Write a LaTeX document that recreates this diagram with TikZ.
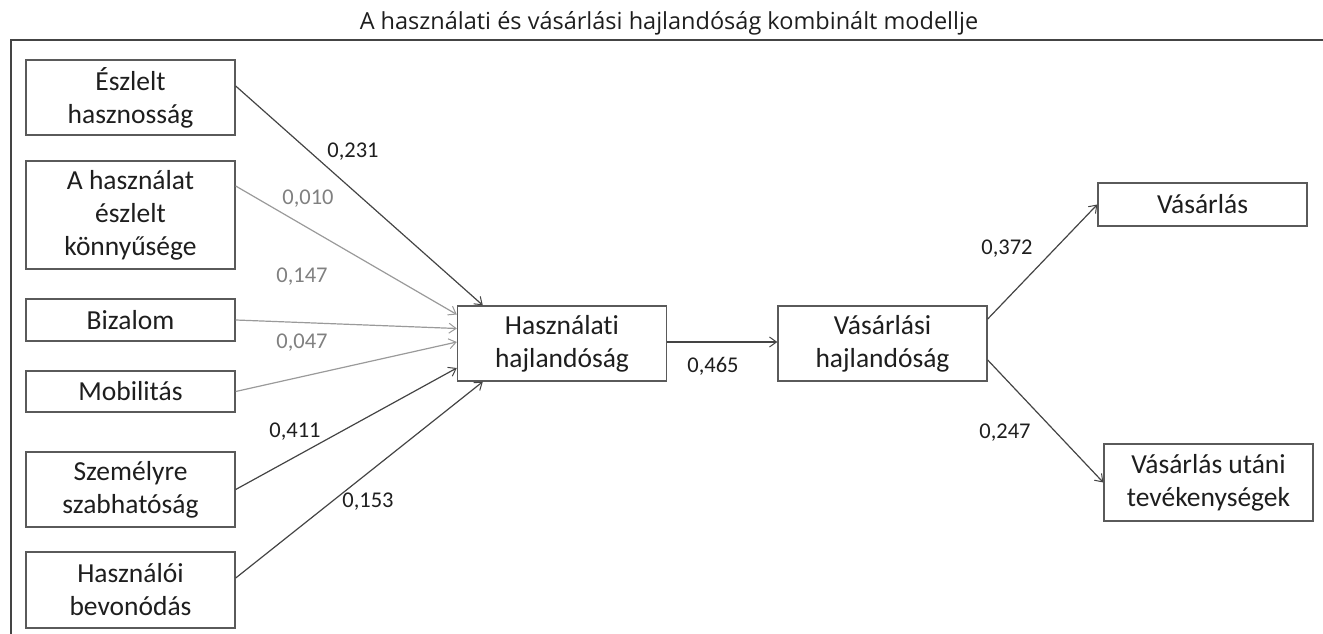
\documentclass[tikz,border=0pt]{standalone}
\usepackage{fontspec}
\setmainfont{Carlito}[Ligatures=NoCommon]
\newfontfamily\titlefont{Open Sans}
\usetikzlibrary{arrows.meta}
\definecolor{boxline}{HTML}{5A5A5A}
\definecolor{darkarr}{HTML}{444444}
\definecolor{lightarr}{HTML}{9A9A9A}
\definecolor{lightlab}{HTML}{808080}
\definecolor{txt}{HTML}{1E1E1E}
\tikzset{
  box/.style={draw=boxline, line width=1.4pt, minimum width=209pt, inner sep=0pt,
    align=center, text=txt, font=\fontsize{27.5}{33}\selectfont},
  darkline/.style={draw=darkarr, line width=1.2pt, -{Straight Barb[length=7pt,width=10pt,line width=1pt]}},
  lightline/.style={draw=lightarr, line width=1.2pt, -{Straight Barb[length=7pt,width=10pt,line width=1pt]}},
  darklab/.style={text=txt, font=\fontsize{22.5}{26}\selectfont, inner sep=0pt},
  lightlab/.style={text=lightlab, font=\fontsize{22.5}{26}\selectfont, inner sep=0pt},
  frame/.style={draw=darkarr, line width=1.5pt}
}
\begin{document}
\begin{tikzpicture}[x=1pt,y=-1pt]
\useasboundingbox (0,0) rectangle (1323,634);
\node[text=txt, font=\titlefont\fontsize{23.5}{27}\selectfont, inner sep=0pt, anchor=base] (title) at (669,30) {A használati és vásárlási hajlandóság kombinált modellje};
\coordinate (fr1) at (1323,40);
\coordinate (fr2) at (11,40);
\coordinate (fr3) at (11,634);
\draw[frame] (fr1) -- (fr2) -- (fr3);

\node[box, minimum height=75pt] (e1) at (130.5,97.5) {Észlelt\\hasznosság};
\node[box, minimum height=108pt] (e2) at (130.5,215) {A használat\\észlelt\\könnyűsége};
\node[box, minimum height=42pt] (e3) at (130.5,320) {Bizalom};
\node[box, minimum height=41pt] (e4) at (130.5,391.5) {Mobilitás};
\node[box, minimum height=75pt] (e5) at (130.5,489.5) {Személyre\\szabhatóság};
\node[box, minimum height=76pt] (e6) at (130.5,590) {Használói\\bevonódás};
\node[box, minimum height=75pt] (h) at (562,343.5) {Használati\\hajlandóság};
\node[box, minimum height=75pt] (v) at (882.5,343.5) {Vásárlási\\hajlandóság};
\node[box, minimum height=43pt] (p) at (1202.5,204.5) {Vásárlás};
\node[box, minimum height=77pt] (u) at (1208.5,482.5) {Vásárlás utáni\\tevékenységek};

\draw[darkline] ([yshift=11.5pt]e1.east) -- ([xshift=26pt]h.north west);
\draw[lightline] ([yshift=29pt]e2.east) -- ([yshift=29pt]h.west);
\draw[lightline] (e3.east) -- ([yshift=15pt]h.west);
\draw[lightline] (e4.east) -- ([yshift=1.5pt]h.west);
\draw[darkline] (e5.east) -- ([yshift=-24.5pt]h.west);
\draw[darkline] ([yshift=12pt]e6.east) -- ([xshift=26pt]h.south west);
\draw[darkline] ([yshift=1.5pt]h.east) -- ([yshift=1.5pt]v.west);
\draw[darkline] ([yshift=24.5pt]v.east) -- (p.west);
\draw[darkline] ([yshift=-16.5pt]v.east) -- (u.west);

\node[darklab] (l1) at (353,152) {0,231};
\node[lightlab] (l2) at (308,199) {0,010};
\node[lightlab] (l3) at (302,277) {0,147};
\node[lightlab] (l4) at (302,343) {0,047};
\node[darklab] (l5) at (295,432) {0,411};
\node[darklab] (l6) at (368,502) {0,153};
\node[darklab] (l7) at (713,366) {0,465};
\node[darklab] (l8) at (1007,249) {0,372};
\node[darklab] (l9) at (1005,433) {0,247};
\end{tikzpicture}
\end{document}
